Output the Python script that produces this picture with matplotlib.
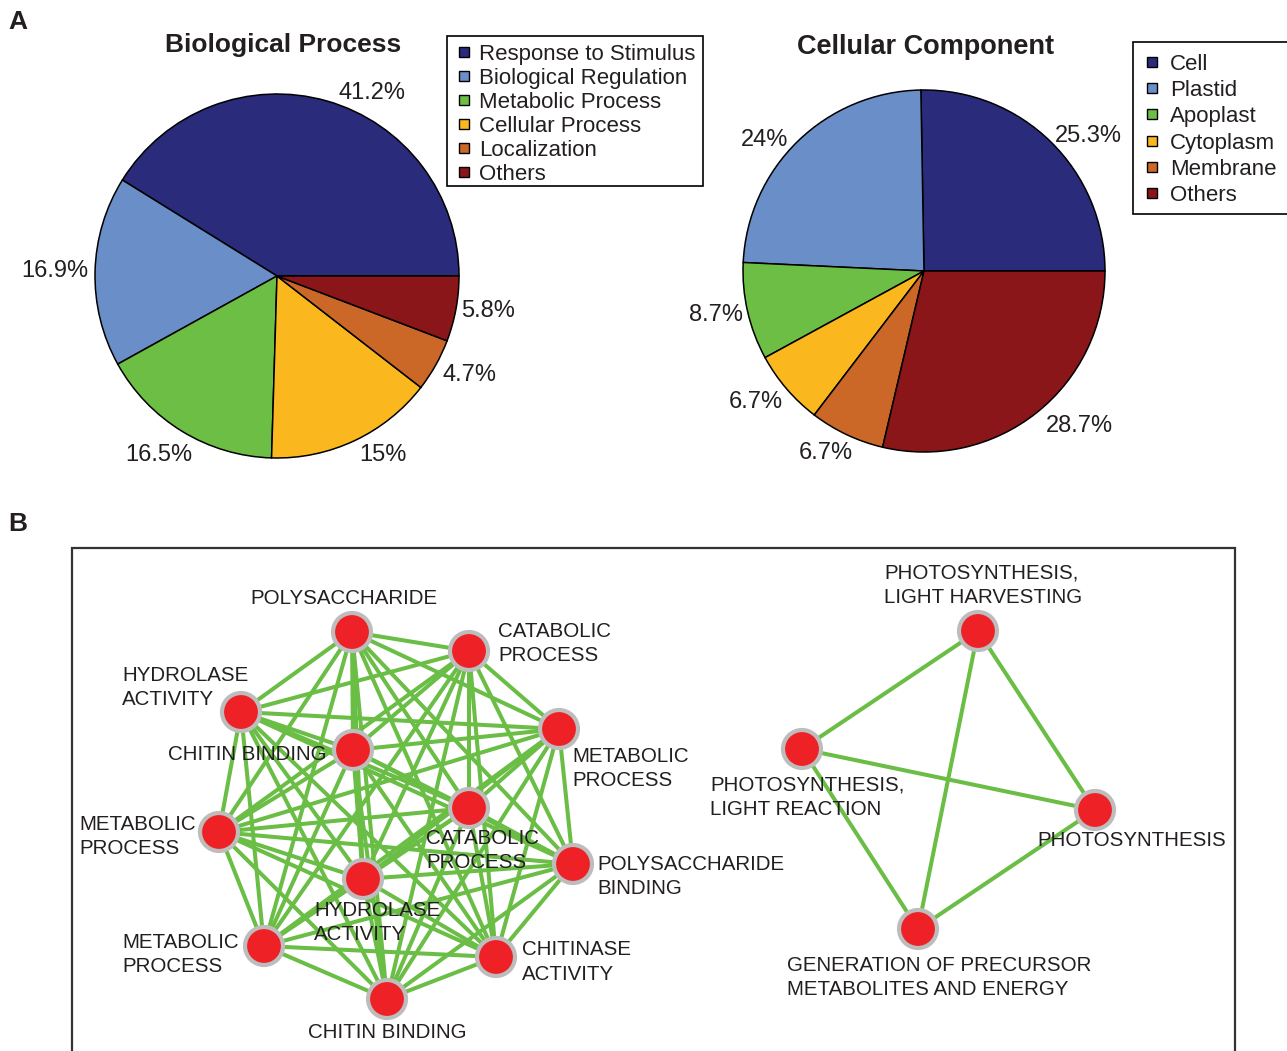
import matplotlib
matplotlib.use("Agg")
import matplotlib.pyplot as plt
from matplotlib.patches import Circle, Rectangle
from itertools import combinations

W, H = 1287, 1051
DPI = 100

# ---- GO category shares (%) ----
bp_categories = ["Response to Stimulus", "Biological Regulation", "Metabolic Process",
                 "Cellular Process", "Localization", "Others"]
bp_values = [41.2, 16.9, 16.5, 15.0, 4.7, 5.8]

cc_categories = ["Cell", "Plastid", "Apoplast", "Cytoplasm", "Membrane", "Others"]
cc_values = [25.3, 24.0, 8.7, 6.7, 6.7, 28.7]

# ---- enrichment network terms ----
cluster1_terms = [
    "POLYSACCHARIDE", "CATABOLIC\nPROCESS", "HYDROLASE\nACTIVITY", "CHITIN BINDING",
    "METABOLIC\nPROCESS", "CATABOLIC\nPROCESS", "METABOLIC\nPROCESS",
    "POLYSACCHARIDE\nBINDING", "HYDROLASE\nACTIVITY", "METABOLIC\nPROCESS",
    "CHITINASE\nACTIVITY", "CHITIN BINDING",
]
cluster2_terms = [
    "PHOTOSYNTHESIS,\nLIGHT HARVESTING", "PHOTOSYNTHESIS,\nLIGHT REACTION",
    "PHOTOSYNTHESIS", "GENERATION OF PRECURSOR\nMETABOLITES AND ENERGY",
]
# both clusters are fully connected
cluster1_edges = list(combinations(range(len(cluster1_terms)), 2))
cluster2_edges = list(combinations(range(len(cluster2_terms)), 2))

# ---- styling ----
slice_colors = ["#2A2B7B", "#6A8EC8", "#6DBE45", "#FBB81E", "#CB6828", "#8A1619"]
TXT = "#231F20"
EDGE_GREEN = "#6ABD45"
NODE_RED = "#EE2226"
NODE_RING = "#BDBDBD"
plt.rcParams["font.family"] = ["Liberation Sans", "DejaVu Sans"]

fig = plt.figure(figsize=(W / DPI, H / DPI), dpi=DPI)
ax = fig.add_axes([0, 0, 1, 1])


def Y(y):
    """canvas rows counted from the top"""
    return H - y


# ---- panel A: pies ----
def draw_pie(values, center, radius, label_pos):
    ax.pie(values, colors=slice_colors, startangle=0, counterclock=True,
           center=(center[0], Y(center[1])), radius=radius,
           wedgeprops=dict(edgecolor="black", linewidth=1.1), frame=True)
    for v, (lx, ly) in zip(values, label_pos):
        ax.text(center[0] + lx * radius, Y(center[1]) + ly * radius, f"{v:g}%",
                ha="center", va="center_baseline", fontsize=17, color=TXT)


draw_pie(bp_values, (277, 276), 182,
         [(0.52, 1.02), (-1.22, 0.04), (-0.65, -0.97), (0.58, -0.97), (1.06, -0.53), (1.16, -0.18)])
draw_pie(cc_values, (924, 271), 181,
         [(0.91, 0.76), (-0.88, 0.74), (-1.15, -0.23), (-0.93, -0.71), (-0.54, -0.99), (0.86, -0.84)])

ax.text(283, Y(45), "Biological Process", ha="center", va="center",
        fontsize=19, fontweight="bold", color=TXT)
ax.text(926, Y(47), "Cellular Component", ha="center", va="center",
        fontsize=19.5, fontweight="bold", color=TXT)


def draw_key(labels, frame, first_row, row_step, box_x, text_x):
    x0, y0, x1, y1 = frame
    ax.add_patch(Rectangle((x0, Y(y1)), x1 - x0, y1 - y0, facecolor="white",
                           edgecolor="black", linewidth=1.2, zorder=5))
    for k, (lab, col) in enumerate(zip(labels, slice_colors)):
        yc = first_row + k * row_step
        ax.add_patch(Rectangle((box_x, Y(yc) - 5), 10, 10, facecolor=col,
                               edgecolor="black", linewidth=1.0, zorder=6))
        ax.text(text_x, Y(yc), lab, ha="left", va="center_baseline", fontsize=16,
                color=TXT, zorder=6)


draw_key(bp_categories, (447, 36, 703, 186), 52, 24, 459, 479)
draw_key(cc_categories, (1133, 42, 1300, 214), 62, 26.2, 1147, 1170)

ax.text(8, Y(22), "A", ha="left", va="center", fontsize=19, fontweight="bold", color=TXT)
ax.text(8, Y(524), "B", ha="left", va="center", fontsize=19, fontweight="bold", color=TXT)

# ---- panel B: network ----
ax.add_patch(Rectangle((72, -30), 1235 - 72, Y(548) + 30, fill=False,
                       edgecolor="#333333", linewidth=1.6, zorder=1))

cluster1_xy = [(352, 632), (469, 651), (241, 712), (353, 750), (559, 729), (469, 808),
               (219, 832), (573, 864), (363, 879), (264, 946), (496, 957), (387, 999)]
cluster1_label_xy = [(344, 598, "center"), (498, 643.5, "left"), (122, 687.5, "left"),
                     (168, 754, "left"), (572, 768.5, "left"), (426, 850.5, "left"),
                     (79, 836.5, "left"), (597, 876.5, "left"), (314, 922.5, "left"),
                     (122, 954.5, "left"), (522, 962, "left"), (387, 1033, "center")]
cluster2_xy = [(978, 631), (802, 749), (1095, 810), (918, 929)]
cluster2_label_xy = [(884, 585.5, "left"), (710, 797.5, "left"),
                     (1037, 841, "left"), (787, 977.5, "left")]


def draw_cluster(terms, edges, xy, label_xy):
    for i, j in edges:
        (x1, y1), (x2, y2) = xy[i], xy[j]
        ax.plot([x1, x2], [Y(y1), Y(y2)], color=EDGE_GREEN, lw=2.9,
                solid_capstyle="butt", zorder=2)
    for x, y in xy:
        ax.add_patch(Circle((x, Y(y)), 19, facecolor=NODE_RED, edgecolor=NODE_RING,
                            linewidth=3.0, zorder=3))
    for term, (lx, ly, ha) in zip(terms, label_xy):
        ax.text(lx, Y(ly), term, ha=ha, va="center", fontsize=14.8, color=TXT,
                linespacing=1.38, zorder=4)


draw_cluster(cluster1_terms, cluster1_edges, cluster1_xy, cluster1_label_xy)
draw_cluster(cluster2_terms, cluster2_edges, cluster2_xy, cluster2_label_xy)

ax.set_xlim(0, W)
ax.set_ylim(0, H)
ax.set_aspect("auto")
ax.axis("off")

fig.savefig("out.png", dpi=DPI, facecolor="white")
